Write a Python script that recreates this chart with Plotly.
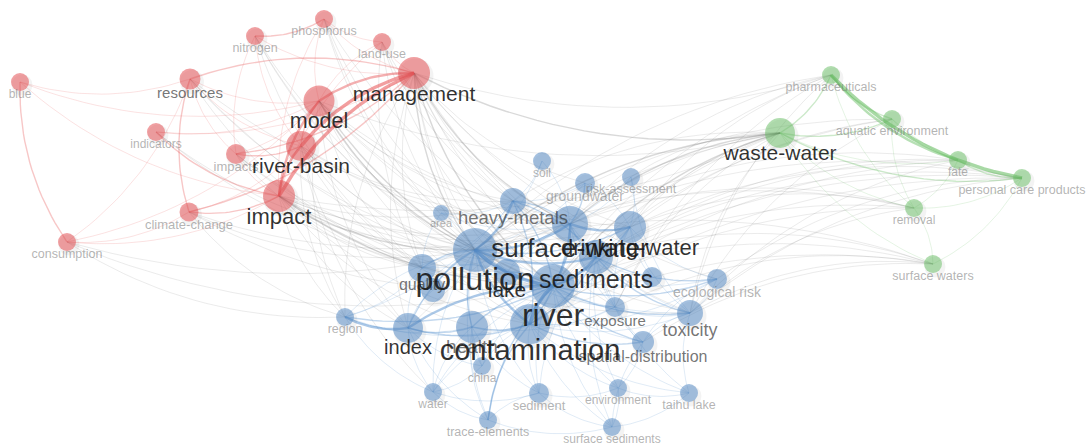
import numpy as np
import plotly.graph_objects as go

# ---- keyword nodes: label, layout x, layout y, node diameter, cluster, label size ----
labels = [
    "blue", "nitrogen", "phosphorus", "land-use", "management", "resources", "model",
    "indicators", "impacts", "river-basin", "impact", "climate-change", "consumption",
    "soil", "groundwater", "risk-assessment", "heavy-metals", "area", "surface-water",
    "drinking-water", "pollution", "sediments", "lake", "quality", "metals", "river",
    "sources", "ecological risk", "exposure", "toxicity", "region", "index", "health",
    "contamination", "spatial-distribution", "china", "water", "sediment", "environment",
    "taihu lake", "trace-elements", "surface sediments",
    "pharmaceuticals", "aquatic environment", "waste-water", "fate",
    "personal care products", "removal", "surface waters",
]
node_x = [
    20, 255, 324, 382, 414, 190, 319, 156, 236, 301, 279, 189, 67,
    542, 585, 631, 513, 441, 570, 630, 475, 596, 507, 422, 433, 553,
    652, 717, 615, 690, 345, 408, 472, 530, 643, 482, 433, 539, 618,
    689, 488, 612,
    831, 892, 780, 958, 1022, 914, 933,
]
node_y = [
    82, 36, 19, 42, 73, 79, 101, 132, 154, 146, 196, 212, 242,
    161, 183, 177, 201, 213, 224, 227, 250, 257, 272, 268, 290, 286,
    277, 279, 307, 313, 317, 328, 327, 324, 342, 366, 392, 393, 388,
    393, 420, 427,
    75, 119, 133, 160, 178, 208, 264,
]
node_size = [
    18, 18, 18, 18, 32, 21, 31, 18, 20, 30, 32, 19, 18,
    18, 20, 18, 26, 16, 36, 32, 44, 34, 26, 28, 24, 44,
    20, 20, 20, 26, 18, 30, 32, 40, 22, 18, 18, 20, 18,
    18, 18, 18,
    18, 18, 30, 18, 18, 18, 18,
]
cluster = [
    0, 0, 0, 0, 0, 0, 0, 0, 0, 0, 0, 0, 0,
    1, 1, 1, 1, 1, 1, 1, 1, 1, 1, 1, 1, 1,
    1, 1, 1, 1, 1, 1, 1, 1, 1, 1, 1, 1, 1,
    1, 1, 1,
    2, 2, 2, 2, 2, 2, 2,
]
label_size = [
    12, 12.5, 12.5, 12.5, 21, 15, 21.5, 12, 13, 21, 22, 13, 12.5,
    12, 14, 12.5, 18.5, 11, 26, 22, 32, 25, 21, 16, 0, 32,
    0, 14, 15, 18, 12.5, 20, 19, 29, 16, 12, 12, 13, 12,
    12.5, 12.5, 12,
    12.5, 12.5, 21, 12, 12.5, 12, 12.5,
]

# ---- co-occurrence links: (keyword, keyword, strength) ----
links = [
    # cluster 1
    ("management", "model", 3), ("management", "river-basin", 4), ("management", "impact", 4),
    ("model", "river-basin", 2), ("model", "impact", 3), ("river-basin", "impact", 3),
    ("management", "resources", 2), ("resources", "model", 1), ("resources", "climate-change", 2),
    ("consumption", "resources", 1), ("blue", "consumption", 2), ("blue", "resources", 1),
    ("blue", "impact", 1), ("blue", "model", 1), ("indicators", "impact", 2),
    ("indicators", "management", 1), ("indicators", "model", 1), ("impacts", "management", 2),
    ("resources", "impacts", 1), ("impacts", "model", 1), ("nitrogen", "phosphorus", 2),
    ("phosphorus", "land-use", 1), ("nitrogen", "management", 1), ("phosphorus", "management", 1),
    ("land-use", "management", 1), ("nitrogen", "impacts", 1), ("phosphorus", "impact", 1),
    ("land-use", "impact", 1), ("climate-change", "impact", 2), ("climate-change", "river-basin", 1),
    ("climate-change", "management", 2), ("consumption", "climate-change", 1),
    ("consumption", "impact", 1), ("consumption", "model", 1), ("nitrogen", "river-basin", 1),
    ("phosphorus", "model", 1), ("resources", "river-basin", 1), ("impacts", "river-basin", 2),
    ("impacts", "impact", 1), ("land-use", "model", 1),
    # cluster 3
    ("pharmaceuticals", "aquatic environment", 2), ("pharmaceuticals", "fate", 3),
    ("pharmaceuticals", "personal care products", 4), ("fate", "personal care products", 2),
    ("aquatic environment", "fate", 1), ("aquatic environment", "personal care products", 1),
    ("waste-water", "pharmaceuticals", 2), ("waste-water", "aquatic environment", 2),
    ("waste-water", "fate", 1), ("waste-water", "personal care products", 2),
    ("waste-water", "removal", 1), ("waste-water", "surface waters", 1),
    ("removal", "personal care products", 1), ("removal", "fate", 1),
    ("surface waters", "personal care products", 1), ("surface waters", "removal", 1),
    ("aquatic environment", "removal", 1), ("pharmaceuticals", "removal", 1),
    # cluster 2
    ("pollution", "surface-water", 3), ("pollution", "river", 4), ("pollution", "contamination", 3),
    ("pollution", "sediments", 3), ("pollution", "heavy-metals", 3), ("pollution", "quality", 2),
    ("pollution", "lake", 2), ("pollution", "index", 2), ("pollution", "health", 2),
    ("pollution", "drinking-water", 2), ("pollution", "groundwater", 1), ("pollution", "soil", 1),
    ("pollution", "area", 1), ("pollution", "metals", 2), ("pollution", "exposure", 1),
    ("pollution", "toxicity", 1), ("pollution", "spatial-distribution", 1), ("pollution", "china", 1),
    ("pollution", "water", 1), ("pollution", "sediment", 1), ("pollution", "trace-elements", 1),
    ("pollution", "region", 1), ("pollution", "ecological risk", 1), ("pollution", "risk-assessment", 1),
    ("river", "surface-water", 3), ("river", "contamination", 4), ("river", "sediments", 3),
    ("river", "heavy-metals", 2), ("river", "index", 3), ("river", "health", 2), ("river", "lake", 2),
    ("river", "quality", 1), ("river", "toxicity", 2), ("river", "exposure", 1),
    ("river", "spatial-distribution", 2), ("river", "china", 1), ("river", "sediment", 1),
    ("river", "environment", 1), ("river", "taihu lake", 1), ("river", "trace-elements", 2),
    ("river", "surface sediments", 1), ("region", "river", 2), ("river", "ecological risk", 2),
    ("river", "drinking-water", 2), ("river", "water", 1),
    ("contamination", "sediments", 2), ("contamination", "heavy-metals", 2), ("index", "contamination", 2),
    ("health", "contamination", 2), ("contamination", "surface-water", 2), ("contamination", "toxicity", 1),
    ("contamination", "exposure", 1), ("contamination", "spatial-distribution", 2),
    ("contamination", "trace-elements", 2), ("contamination", "sediment", 1),
    ("contamination", "surface sediments", 1), ("contamination", "environment", 1),
    ("contamination", "taihu lake", 1), ("contamination", "china", 1), ("contamination", "water", 1),
    ("region", "contamination", 1), ("contamination", "drinking-water", 1),
    ("contamination", "ecological risk", 1),
    ("surface-water", "drinking-water", 3), ("surface-water", "sediments", 2),
    ("surface-water", "heavy-metals", 2), ("surface-water", "groundwater", 2), ("surface-water", "soil", 1),
    ("surface-water", "risk-assessment", 1), ("area", "surface-water", 1), ("surface-water", "toxicity", 1),
    ("surface-water", "exposure", 1), ("surface-water", "lake", 1), ("quality", "surface-water", 1),
    ("region", "index", 3), ("index", "health", 2), ("quality", "index", 1), ("index", "water", 1),
    ("index", "trace-elements", 1), ("index", "china", 1), ("metals", "index", 1),
    ("region", "health", 1), ("health", "china", 1), ("health", "water", 1),
    ("health", "trace-elements", 1), ("health", "sediment", 1), ("health", "exposure", 1),
    ("sediments", "heavy-metals", 2), ("sediments", "toxicity", 2), ("sediments", "ecological risk", 2),
    ("sediments", "exposure", 1), ("sediments", "spatial-distribution", 1), ("sediments", "taihu lake", 1),
    ("sediments", "surface sediments", 1), ("sediments", "sediment", 1), ("sediments", "environment", 1),
    ("sediments", "sources", 1),
    ("toxicity", "ecological risk", 1), ("exposure", "toxicity", 1), ("toxicity", "spatial-distribution", 1),
    ("toxicity", "taihu lake", 1), ("risk-assessment", "toxicity", 1), ("drinking-water", "toxicity", 1),
    ("drinking-water", "groundwater", 1), ("drinking-water", "risk-assessment", 1),
    ("drinking-water", "exposure", 1), ("drinking-water", "ecological risk", 1), ("drinking-water", "sources", 1),
    ("heavy-metals", "soil", 1), ("heavy-metals", "groundwater", 1), ("area", "heavy-metals", 1),
    ("quality", "heavy-metals", 1), ("region", "heavy-metals", 1),
    ("surface sediments", "environment", 1), ("spatial-distribution", "surface sediments", 1),
    ("sediment", "surface sediments", 1), ("trace-elements", "surface sediments", 1),
    ("surface sediments", "taihu lake", 1), ("sediment", "environment", 1),
    ("sediment", "trace-elements", 1), ("water", "sediment", 1), ("environment", "taihu lake", 1),
    ("environment", "spatial-distribution", 1), ("water", "trace-elements", 1), ("water", "china", 1),
    ("region", "water", 1), ("region", "quality", 1), ("area", "quality", 1), ("quality", "lake", 1),
    ("exposure", "spatial-distribution", 1), ("ecological risk", "spatial-distribution", 1),
    # between clusters
    ("management", "pollution", 2), ("management", "river", 2), ("management", "surface-water", 2),
    ("management", "contamination", 1), ("management", "sediments", 1), ("management", "drinking-water", 1),
    ("management", "heavy-metals", 1), ("management", "waste-water", 2), ("management", "quality", 1),
    ("management", "index", 1), ("management", "groundwater", 1), ("management", "pharmaceuticals", 1),
    ("management", "toxicity", 1), ("management", "exposure", 1), ("management", "ecological risk", 1),
    ("management", "region", 1), ("management", "lake", 1),
    ("model", "pollution", 2), ("model", "river", 2), ("model", "surface-water", 1),
    ("model", "contamination", 1), ("model", "waste-water", 1), ("model", "quality", 1),
    ("model", "index", 1), ("model", "sediments", 1), ("model", "heavy-metals", 1), ("model", "lake", 1),
    ("model", "toxicity", 1), ("model", "region", 1), ("model", "drinking-water", 1),
    ("river-basin", "pollution", 1), ("river-basin", "river", 1), ("river-basin", "heavy-metals", 1),
    ("river-basin", "surface-water", 1), ("river-basin", "quality", 1), ("river-basin", "index", 1),
    ("river-basin", "contamination", 1), ("river-basin", "region", 1), ("river-basin", "water", 1),
    ("impact", "pollution", 2), ("impact", "river", 2), ("impact", "surface-water", 1),
    ("impact", "contamination", 1), ("impact", "waste-water", 1), ("impact", "heavy-metals", 1),
    ("impact", "sediments", 1), ("impact", "lake", 1), ("impact", "quality", 1), ("impact", "index", 1),
    ("impact", "health", 1), ("impact", "region", 1), ("impact", "toxicity", 1),
    ("impact", "drinking-water", 1),
    ("impacts", "pollution", 1), ("impacts", "river", 1), ("impacts", "quality", 1),
    ("climate-change", "river", 1), ("climate-change", "pollution", 1), ("climate-change", "region", 1),
    ("climate-change", "surface-water", 1),
    ("resources", "pollution", 1), ("resources", "river", 1), ("resources", "surface-water", 1),
    ("resources", "quality", 1),
    ("land-use", "river", 1), ("land-use", "pollution", 1), ("land-use", "quality", 1),
    ("land-use", "surface-water", 1), ("land-use", "heavy-metals", 1),
    ("nitrogen", "pollution", 1), ("nitrogen", "river", 1), ("nitrogen", "lake", 1), ("nitrogen", "quality", 1),
    ("phosphorus", "lake", 1), ("phosphorus", "pollution", 1), ("phosphorus", "river", 1),
    ("phosphorus", "sediments", 1),
    ("consumption", "river", 1), ("consumption", "surface-water", 1), ("consumption", "region", 1),
    ("indicators", "pollution", 1), ("indicators", "river", 1),
    ("waste-water", "pollution", 2), ("waste-water", "surface-water", 2), ("waste-water", "river", 2),
    ("waste-water", "contamination", 1), ("waste-water", "drinking-water", 1), ("waste-water", "sediments", 1),
    ("waste-water", "toxicity", 1), ("waste-water", "exposure", 1), ("waste-water", "heavy-metals", 1),
    ("waste-water", "risk-assessment", 1), ("waste-water", "lake", 1), ("waste-water", "index", 1),
    ("pharmaceuticals", "surface-water", 1), ("pharmaceuticals", "river", 1),
    ("pharmaceuticals", "drinking-water", 1), ("pharmaceuticals", "toxicity", 1),
    ("pharmaceuticals", "pollution", 1), ("pharmaceuticals", "exposure", 1),
    ("aquatic environment", "river", 1), ("aquatic environment", "pollution", 1),
    ("aquatic environment", "toxicity", 1), ("aquatic environment", "sediments", 1),
    ("fate", "river", 1), ("fate", "surface-water", 1), ("fate", "sediments", 1), ("fate", "toxicity", 1),
    ("fate", "contamination", 1),
    ("personal care products", "surface-water", 1), ("personal care products", "river", 1),
    ("personal care products", "drinking-water", 1), ("personal care products", "sediments", 1),
    ("personal care products", "contamination", 1), ("personal care products", "toxicity", 1),
    ("personal care products", "ecological risk", 1),
    ("removal", "surface-water", 1), ("removal", "drinking-water", 1), ("removal", "pollution", 1),
    ("removal", "river", 1), ("removal", "contamination", 1), ("removal", "toxicity", 1),
    ("surface waters", "river", 1), ("surface waters", "pollution", 1), ("surface waters", "contamination", 1),
    ("surface waters", "toxicity", 1), ("surface waters", "sediments", 1), ("surface waters", "exposure", 1),
    ("surface waters", "spatial-distribution", 1),
]

W, H = 1086, 446
idx = {name: i for i, name in enumerate(labels)}

node_rgb = ["228,80,84", "88,140,196", "112,192,108"]
link_rgb = ["232,90,92", "80,140,205", "105,190,100"]
gray_rgb = "95,95,95"

def curve(i, j, n=24):
    x0, y0, x1, y1 = node_x[i], node_y[i], node_x[j], node_y[j]
    dx, dy = x1 - x0, y1 - y0
    cx = (x0 + x1) / 2 - dy * 0.16
    cy = (y0 + y1) / 2 + dx * 0.16
    t = np.linspace(0, 1, n)
    bx = (1 - t) ** 2 * x0 + 2 * (1 - t) * t * cx + t ** 2 * x1
    by = (1 - t) ** 2 * y0 + 2 * (1 - t) * t * cy + t ** 2 * y1
    return list(bx), list(by)

# group links by colour and strength so each group is one trace
groups = {}
for a, b, w in links:
    i, j = idx[a], idx[b]
    key = (cluster[i] if cluster[i] == cluster[j] else -1, w)
    bx, by = curve(i, j)
    gx, gy = groups.setdefault(key, ([], []))
    gx.extend(bx + [None])
    gy.extend(by + [None])

alpha_col = {1: 0.2, 2: 0.34, 3: 0.48, 4: 0.58}
alpha_gray = {1: 0.14, 2: 0.24, 3: 0.3, 4: 0.35}
width = {1: 0.9, 2: 1.4, 3: 2.4, 4: 3.4}

fig = go.Figure()
for (c, w), (gx, gy) in sorted(groups.items(), key=lambda kv: (kv[0][1], kv[0][0])):
    if c < 0:
        col = f"rgba({gray_rgb},{alpha_gray[w]})"
    else:
        col = f"rgba({link_rgb[c]},{alpha_col[w]})"
    fig.add_trace(go.Scatter(x=gx, y=gy, mode="lines", hoverinfo="skip",
                             line=dict(color=col, width=width[w], shape="linear")))

order = sorted(range(len(labels)), key=lambda k: node_size[k])
# soft drop shadow under each node
fig.add_trace(go.Scatter(
    x=[node_x[k] + 2 for k in order], y=[node_y[k] + 3 for k in order], mode="markers",
    hoverinfo="skip",
    marker=dict(size=[node_size[k] + 3 for k in order], color="rgba(0,0,0,0.07)", line=dict(width=0)),
))
fig.add_trace(go.Scatter(
    x=[node_x[k] for k in order], y=[node_y[k] for k in order], mode="markers",
    text=[labels[k] for k in order], hoverinfo="text",
    marker=dict(size=[node_size[k] for k in order],
                color=[f"rgba({node_rgb[cluster[k]]},0.78)" for k in order],
                line=dict(width=0)),
))

def label_color(s):
    if s >= 20:
        return "rgba(20,20,20,0.88)"
    if s >= 15:
        return "rgba(50,50,50,0.68)"
    return "rgba(105,105,105,0.5)"

shown = sorted([k for k in range(len(labels)) if label_size[k] > 0], key=lambda k: label_size[k])
fig.add_trace(go.Scatter(
    x=[node_x[k] for k in shown],
    y=[node_y[k] + node_size[k] * 0.4 + label_size[k] * 0.45 for k in shown],
    mode="text", hoverinfo="skip",
    text=[labels[k] for k in shown],
    textposition="middle center",
    textfont=dict(family="Liberation Sans, Arial, sans-serif",
                  size=[label_size[k] for k in shown],
                  color=[label_color(label_size[k]) for k in shown]),
))

fig.update_layout(
    width=W, height=H, margin=dict(l=0, r=0, t=0, b=0),
    paper_bgcolor="white", plot_bgcolor="white", showlegend=False,
    xaxis=dict(range=[0, W], visible=False, fixedrange=True),
    yaxis=dict(range=[H, 0], visible=False, fixedrange=True),
)
fig.write_html("out.html")
